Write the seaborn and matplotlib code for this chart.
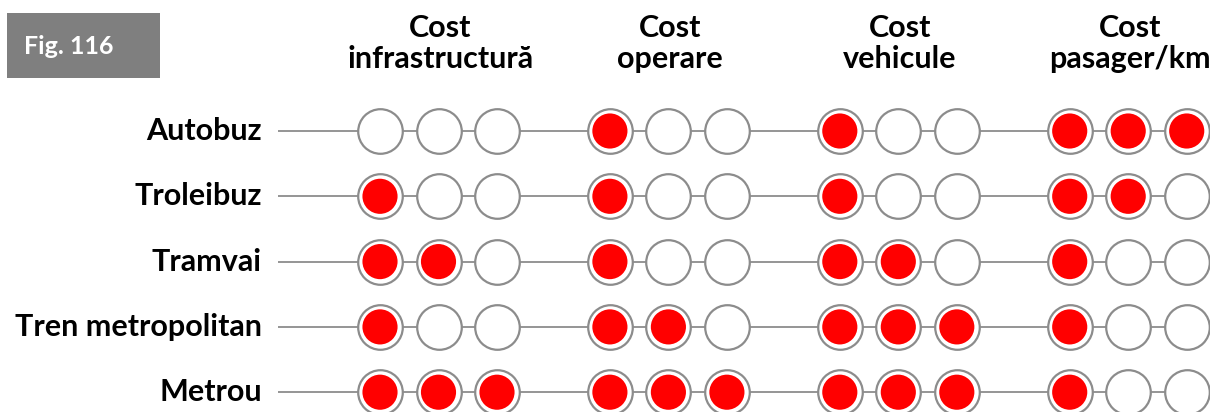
import numpy as np
import pandas as pd
import seaborn as sns
import matplotlib.pyplot as plt
from matplotlib.patches import Rectangle

sns.set_theme(style="white")
plt.rcParams['font.family'] = ['Lato', 'DejaVu Sans']

# data
modes = ["Autobuz", "Troleibuz", "Tramvai", "Tren metropolitan", "Metrou"]
criteria = ["Cost\ninfrastructură", "Cost\noperare", "Cost\nvehicule", "Cost\npasager/km"]
# number of filled (red) dots out of 3, per mode and criterion
infra = [0, 1, 2, 1, 3]
operare = [1, 1, 1, 2, 3]
vehicule = [1, 1, 2, 3, 3]
pasager = [3, 2, 1, 1, 1]
max_dots = 3

# layout
group_step = 3.93
rows = []
for r, m in enumerate(modes):
    for g, vals in enumerate([infra, operare, vehicule, pasager]):
        for k in range(max_dots):
            rows.append({"mode": m, "row": r, "x": g * group_step + k,
                         "filled": k < vals[r]})
df = pd.DataFrame(rows)

fig = plt.figure(figsize=(12.1, 4.12), dpi=100)
ax = fig.add_axes([0, 0, 1, 1])
ax.set_xlim(-380 / 58.5, (1210 - 380) / 58.5)
ax.set_ylim((412 - 131) / 65.3, -131 / 65.3)
ax.axis("off")

# connecting lines
ax.hlines(range(len(modes)), (278 - 380) / 58.5, (1215 - 380) / 58.5,
          color="#8c8c8c", lw=1.3, zorder=1)

# outer rings
sns.scatterplot(data=df, x="x", y="row", s=1030, color="white",
                edgecolor="#8c8c8c", linewidth=1.6, ax=ax, zorder=2, legend=False)
# red fills
sns.scatterplot(data=df[df["filled"]], x="x", y="row", s=640, color="#ff0000",
                edgecolor="none", linewidth=0, ax=ax, zorder=3, legend=False)
ax.set_xlabel("")
ax.set_ylabel("")

# row labels
for r, m in enumerate(modes):
    ax.text((262 - 380) / 58.5, r, m, ha="right", va="center",
            fontsize=22, fontweight="bold", color="black")

# column headers
for g, c in enumerate(criteria):
    ax.text(g * group_step + 1.03, -1.34, c, ha="center", va="center",
            fontsize=22, fontweight="bold", color="black", linespacing=1.12)

# figure tag
fig.patches.append(Rectangle((7 / 1210, 1 - 78 / 412), 153 / 1210, 65 / 412,
                             transform=fig.transFigure, facecolor="#7f7f7f",
                             edgecolor="none", zorder=0))
fig.text(69 / 1210, 1 - 46 / 412, "Fig. 116", ha="center", va="center",
         fontsize=18, fontweight="bold", color="white")

fig.savefig("out.png", dpi=100)
